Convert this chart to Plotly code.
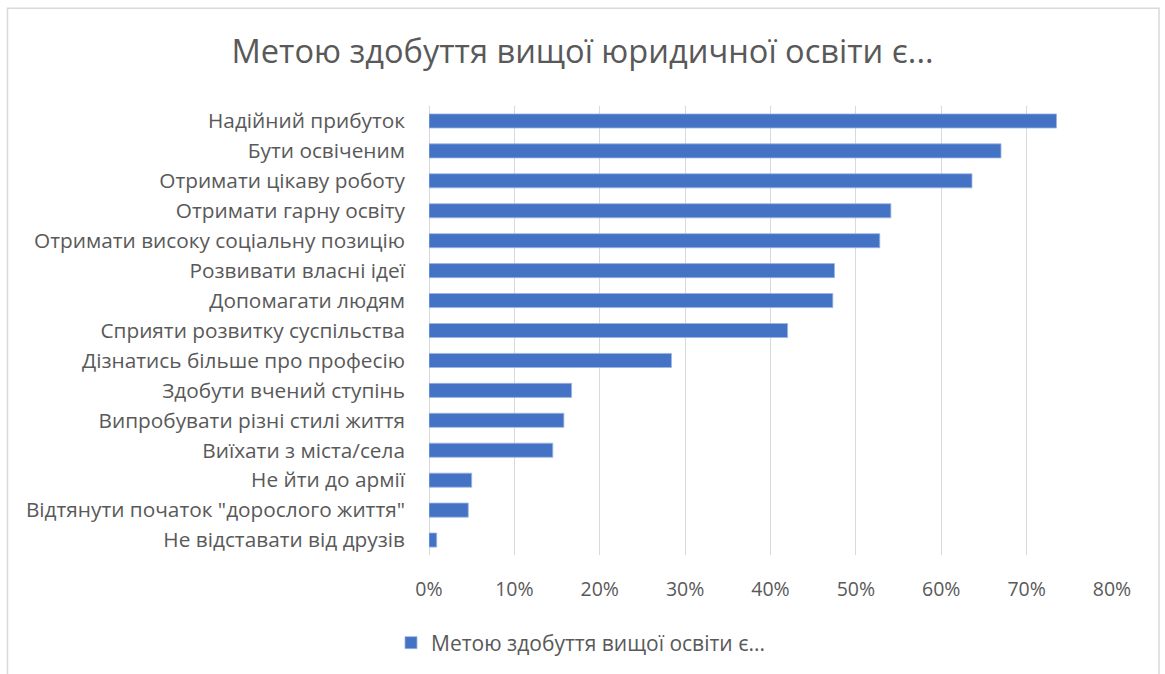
import plotly.graph_objects as go

categories = [
    "Надійний прибуток",
    "Бути освіченим",
    "Отримати цікаву роботу",
    "Отримати гарну освіту",
    "Отримати високу соціальну позицію",
    "Розвивати власні ідеї",
    "Допомагати людям",
    "Сприяти розвитку суспільства",
    "Дізнатись більше про професію",
    "Здобути вчений ступінь",
    "Випробувати різні стилі життя",
    "Виїхати з міста/села",
    "Не йти до армії",
    "Відтянути початок \"дорослого життя\"",
    "Не відставати від друзів",
]
values = [0.735, 0.670, 0.636, 0.541, 0.528, 0.475, 0.473, 0.420, 0.284,
          0.167, 0.158, 0.145, 0.050, 0.046, 0.009]
tick_vals = [0, 0.1, 0.2, 0.3, 0.4, 0.5, 0.6, 0.7, 0.8]
tick_text = ["0%", "10%", "20%", "30%", "40%", "50%", "60%", "70%", "80%"]
series_name = "Метою здобуття вищої освіти є..."
title_text = "Метою здобуття вищої юридичної освіти є..."

FONT = "Open Sans"
GREY = "#595959"

fig = go.Figure()
fig.add_trace(go.Bar(
    y=categories, x=values, orientation="h", name=series_name,
    marker=dict(color="#4472C4", line=dict(color="#9DB5E3", width=0.8)),
    width=0.47, showlegend=True,
))

W, H = 1165, 674
L, R, T, B = 429, 1112, 106, 556

def px_x(p):
    return (p - L) / (R - L)

def px_y(p):
    return (B - p) / (B - T)

fig.update_layout(
    width=W, height=H,
    margin=dict(l=L, r=W - R, t=T, b=H - B),
    paper_bgcolor="white", plot_bgcolor="white",
    title=dict(text=title_text, x=0.5, xref="container", xanchor="center",
               y=1 - 52 / H, yref="container", yanchor="middle",
               font=dict(family=FONT, size=32.6, color=GREY)),
    font=dict(family=FONT, color=GREY),
    xaxis=dict(range=[0, 0.8], tickvals=tick_vals, ticktext=tick_text,
               showgrid=True, gridcolor="#D9D9D9", gridwidth=1,
               zeroline=True, zerolinecolor="#D9D9D9", zerolinewidth=1,
               showline=False, ticks="", ticklabelstandoff=20,
               tickfont=dict(family=FONT, size=19.5, color=GREY)),
    yaxis=dict(autorange="reversed", showgrid=False, showline=False,
               ticks="", ticklabelstandoff=23,
               tickfont=dict(family=FONT, size=20.8, color=GREY)),
    legend=dict(orientation="h", x=px_x(581), xanchor="center",
                y=px_y(643), yanchor="middle",
                font=dict(family=FONT, size=21, color=GREY),
                itemwidth=30),
    shapes=[dict(type="rect", xref="paper", yref="paper",
                 x0=px_x(7.5), x1=px_x(1159), y0=px_y(690), y1=px_y(8),
                 line=dict(color="#D9D9D9", width=1.5), layer="below")],
)

fig.write_html("out.html", config={"displayModeBar": False},
               post_script="document.body.style.margin='0';")
